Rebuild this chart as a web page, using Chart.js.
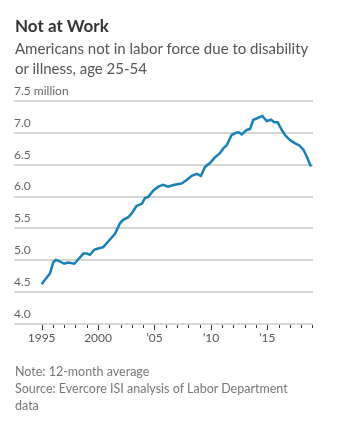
<!DOCTYPE html>
<html><head><meta charset="utf-8">
<script src="https://cdn.jsdelivr.net/npm/chart.js@4"></script>
<style>
html,body{margin:0;padding:0;background:#fff;}
body{width:341px;height:427px;position:relative;overflow:hidden;font-family:Lato,"Open Sans",sans-serif;}
#wrap{position:absolute;left:0;top:0;width:341px;height:427px;}
.t{position:absolute;left:15px;white-space:nowrap;}
#title{top:15px;font-size:17px;font-weight:bold;color:#333;}
#sub{top:38px;font-size:15px;line-height:20px;color:#555;}
#note{top:363px;font-size:12.5px;line-height:17px;color:#777;}
</style></head><body>
<div id="wrap"><canvas id="c" width="341" height="427"></canvas></div>
<div class="t" id="title">Not at Work</div>
<div class="t" id="sub">Americans not in labor force due to disability<br>or illness, age 25-54</div>
<div class="t" id="note">Note: 12-month average<br>Source: Evercore ISI analysis of Labor Department<br>data</div>
<script>
const years = [1995.0,1995.35,1995.74,1996.03,1996.24,1996.47,1997.0,1997.36,1997.9,1998.25,1998.7,1999.0,1999.28,1999.66,2000.0,2000.46,2000.9,2001.5,2001.94,2002.23,2002.68,2002.98,2003.42,2003.87,2004.16,2004.45,2004.9,2005.34,2005.78,2006.2,2006.76,2007.4,2007.85,2008.3,2008.74,2009.12,2009.48,2009.92,2010.36,2010.8,2011.1,2011.4,2011.84,2012.29,2012.5,2012.73,2013.17,2013.47,2013.76,2014.06,2014.56,2014.95,2015.33,2015.62,2015.92,2016.28,2016.57,2017.0,2017.46,2017.81,2018.2,2018.5,2018.87];
const values = [4.61,4.69,4.78,4.95,4.99,4.98,4.93,4.95,4.93,5.00,5.09,5.09,5.07,5.15,5.17,5.19,5.28,5.40,5.565,5.62,5.66,5.72,5.84,5.87,5.96,5.98,6.08,6.14,6.17,6.14,6.17,6.19,6.245,6.31,6.34,6.31,6.45,6.51,6.60,6.665,6.74,6.79,6.95,6.99,6.99,6.96,7.03,7.045,7.19,7.21,7.25,7.17,7.19,7.15,7.15,7.03,6.95,6.87,6.82,6.79,6.72,6.61,6.455];
const tickYears = [1995,1996,1997,1998,1999,2000,2001,2002,2003,2004,2005,2006,2007,2008,2009,2010,2011,2012,2013,2014,2015,2016,2017,2018,2019];
const xLabels = {1995:'1995',2000:'2000',2005:"\u201905",2010:"\u201910",2015:"\u201915"};
const yTicks = [4.0,4.5,5.0,5.5,6.0,6.5,7.0,7.5];
const xMin = 1992.55, xMax = 2019.05;

const gridPlugin = {
  id:'hgrid',
  beforeDatasetsDraw(chart){
    const x = chart.scales.x, y = chart.scales.y, ctx = chart.ctx;
    const l = Math.round(x.getPixelForValue(xMin)), r = Math.round(x.getPixelForValue(xMax));
    ctx.save();
    ctx.fillStyle = 'rgb(214,214,214)';
    yTicks.forEach(v=>{
      const py = Math.round(y.getPixelForValue(v));
      ctx.fillRect(l, py, r-l, 2);
    });
    ctx.restore();
  },
  afterDraw(chart){
    const x = chart.scales.x, y = chart.scales.y, ctx = chart.ctx;
    const b = Math.round(y.getPixelForValue(4));
    ctx.save();
    ctx.fillStyle = '#333';
    tickYears.forEach(v=>{
      const px = Math.round(x.getPixelForValue(v));
      const len = (v%5===0)?5:3;
      ctx.fillRect(px, b+2, 1, len);
    });
    ctx.restore();
  }
};

new Chart(document.getElementById('c'), {
  type:'line',
  data:{datasets:[{data:years.map((y,i)=>({x:y,y:values[i]})),borderColor:'#1780b8',borderWidth:2.5,pointRadius:0,tension:0,fill:false}]},
  options:{
    responsive:false, animation:false, events:[],
    layout:{padding:{left:14,right:28,top:100,bottom:79}},
    plugins:{legend:{display:false},tooltip:{enabled:false}},
    scales:{
      x:{type:'linear',min:xMin,max:xMax,
        afterBuildTicks:s=>{s.ticks=tickYears.map(v=>({value:v}));},
        afterFit:s=>{s.height=25;},
        grid:{display:false,drawTicks:false},
        border:{display:false},
        ticks:{autoSkip:false,maxRotation:0,padding:8,color:'#555',font:{family:'Lato',size:12},callback:v=>xLabels[v]||''}
      },
      y:{type:'linear',min:4,max:7.5,
        afterBuildTicks:s=>{s.ticks=yTicks.map(v=>({value:v}));},
        afterFit:s=>{s.width=0;},
        grid:{display:false,drawTicks:false},
        border:{display:false},
        ticks:{mirror:true,padding:0,labelOffset:-9,color:'#666',font:{family:'Lato',size:12},
          callback:v=>v===7.5?'7.5 million':v.toFixed(1)}
      }
    }
  },
  plugins:[gridPlugin]
});
</script>
</body></html>
